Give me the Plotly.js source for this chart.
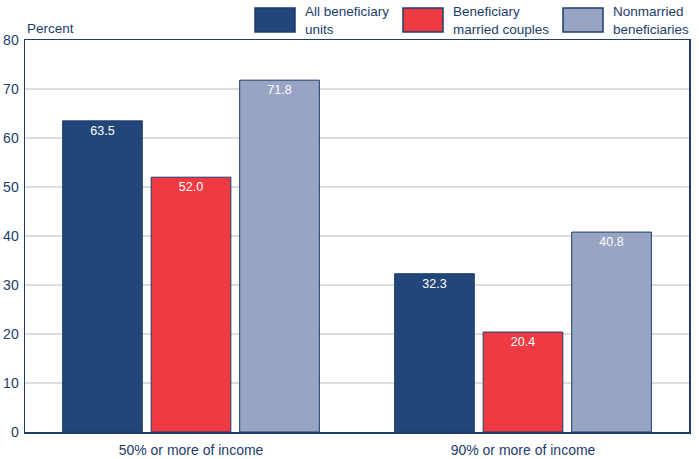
<!DOCTYPE html>
<html><head><meta charset="utf-8">
<script src="https://cdn.plot.ly/plotly-3.0.1.min.js"></script>
<style>html,body{margin:0;padding:0;background:#fff}#chart{width:699px;height:459px}</style>
</head><body><div id="chart"></div>
<script>
const categories = ["50% or more of income", "90% or more of income"];
const seriesNames = ["All beneficiary<br>units", "Beneficiary<br>married couples", "Nonmarried<br>beneficiaries"];
const allUnits = [63.5, 32.3];
const marriedCouples = [52.0, 20.4];
const nonmarried = [71.8, 40.8];
const yTicks = [0, 10, 20, 30, 40, 50, 60, 70, 80];

const colors = ["#22467a", "#ee3a43", "#97a4c3"];
const navy = "#1d3d6b";
const font = "Arial, 'Liberation Sans', sans-serif";
const values = [allUnits, marriedCouples, nonmarried];

const traces = values.map((v, i) => ({
  type: "bar", x: categories, y: v, name: seriesNames[i],
  marker: {color: colors[i], line: {color: navy, width: 1}},
  text: v.map(d => d.toFixed(1)), textposition: "inside", insidetextanchor: "end",
  textfont: {color: "#ffffff", size: 12.5, family: font}, constraintext: "none",
  showlegend: false, hoverinfo: "skip", cliponaxis: false
}));

// custom legend
const legX = [255, 403, 563];
const shapes = [];
const annotations = [];
legX.forEach((x, i) => {
  shapes.push({type: "rect", xref: "paper", yref: "paper",
    x0: (x - 25) / 664, x1: (x + 40 - 25) / 664,
    y0: (459 - 27 - 32) / 392, y1: (459 - 27 - 8) / 392,
    fillcolor: colors[i], line: {color: navy, width: 1.5}});
  annotations.push({xref: "paper", yref: "paper", x: (x + 48 - 25) / 664, y: (459 - 27 - 20) / 392,
    xanchor: "left", yanchor: "middle", align: "left", showarrow: false,
    text: seriesNames[i], font: {size: 13.5, color: navy, family: font}});
});
annotations.push({xref: "paper", yref: "paper", x: 0, y: 1, xanchor: "left", yanchor: "bottom",
  yshift: 2, showarrow: false, text: "Percent", font: {size: 13.5, color: navy, family: font}});

const layout = {
  width: 699, height: 459,
  margin: {l: 25, r: 10, t: 40, b: 27, pad: 0},
  paper_bgcolor: "#ffffff", plot_bgcolor: "#ffffff",
  font: {family: font, color: navy},
  barmode: "group", bargap: 0.2, bargroupgap: 0.1,
  xaxis: {showgrid: false, showline: true, mirror: true, linecolor: navy, linewidth: 1.5,
    tickfont: {size: 14, color: navy}, ticks: "", ticklabelstandoff: 5, fixedrange: true},
  yaxis: {range: [0, 80], tickvals: yTicks, showgrid: true, gridcolor: "#dddddd", gridwidth: 1.5,
    showline: true, mirror: true, linecolor: navy, linewidth: 1.5, zeroline: false,
    tickfont: {size: 14, color: navy}, ticks: "", ticklabelstandoff: 2, fixedrange: true},
  shapes: shapes, annotations: annotations, showlegend: false
};
Plotly.newPlot("chart", traces, layout, {displayModeBar: false, staticPlot: true});
</script></body></html>
